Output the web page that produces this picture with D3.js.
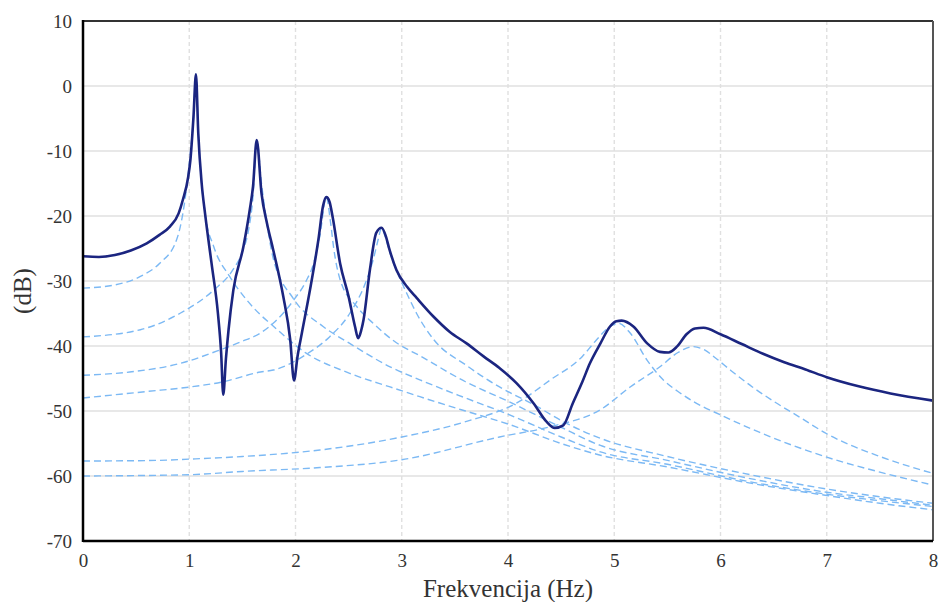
<!DOCTYPE html>
<html>
<head>
<meta charset="utf-8">
<script src="https://cdn.jsdelivr.net/npm/d3@7"></script>
<style>
  html, body { margin: 0; padding: 0; background: #fff; }
  svg { display: block; }
</style>
</head>
<body>
<svg id="chart" width="939" height="602"></svg>
<script>
// ---------- data ----------
const xTicks = [0, 1, 2, 3, 4, 5, 6, 7, 8];
const yTicks = [10, 0, -10, -20, -30, -40, -50, -60, -70];
const xTitle = "Frekvencija (Hz)";
const yTitle = "(dB)";

// total response (solid)
const totalResponse = [
  [0,-26.2],[0.15,-26.3],[0.3,-26.0],[0.45,-25.3],[0.6,-24.2],[0.72,-22.9],[0.82,-21.6],[0.90,-19.6],
  [0.94,-17.5],[0.99,-14],[1.01,-11.5],[1.04,-4.7],[1.063,1.8],[1.085,-7.3],[1.117,-15],
  [1.15,-19.8],[1.21,-27.3],[1.27,-35],[1.30,-41],[1.32,-47.5],[1.345,-42],[1.37,-37.5],
  [1.415,-31.4],[1.51,-24.7],[1.57,-19],[1.60,-15.5],[1.635,-8.3],[1.68,-16.5],[1.73,-21],
  [1.79,-25.2],[1.885,-32.4],[1.95,-39],[1.986,-45.3],[2.02,-41.5],[2.06,-38],[2.136,-31.4],
  [2.215,-23.7],[2.26,-18.4],[2.29,-17.1],[2.32,-17.8],[2.35,-20.2],[2.42,-27.3],[2.50,-32.4],
  [2.56,-37],[2.59,-38.8],[2.62,-37.5],[2.64,-36],[2.70,-28.3],[2.76,-22.6],[2.81,-21.8],
  [2.85,-23.1],[2.88,-24.9],[2.95,-28.3],[3.05,-30.9],[3.14,-32.6],[3.30,-35.5],[3.45,-37.8],
  [3.61,-39.6],[3.77,-41.6],[3.92,-43.4],[4.08,-45.7],[4.24,-48.8],[4.36,-51.6],[4.44,-52.6],
  [4.52,-52.2],[4.61,-48.8],[4.70,-45.5],[4.77,-42.7],[4.87,-39.6],[4.96,-37],[5.02,-36.2],
  [5.07,-36.1],[5.18,-37],[5.31,-39.6],[5.43,-40.9],[5.51,-41.0],[5.59,-40.1],[5.68,-38.2],
  [5.76,-37.3],[5.84,-37.2],[6.0,-38.2],[6.2,-39.7],[6.4,-41.2],[6.6,-42.5],[6.8,-43.6],
  [7.0,-44.8],[7.3,-46.2],[7.6,-47.3],[8.0,-48.4]
];

// modal contributions (dashed)
const mode1 = [
  [0,-31.1],[0.3,-30.6],[0.54,-29.3],[0.72,-27.3],[0.88,-23.7],[0.94,-19.6],[1.0,-12],
  [1.04,-4.7],[1.063,1.8],[1.085,-7.3],[1.117,-15],[1.15,-19.8],[1.23,-24.7],[1.38,-29.3],
  [1.54,-32.9],[1.67,-35.2],[1.76,-36.5],[2.1,-41.1],[2.51,-44.2],[2.89,-46.3],[3.17,-47.8],
  [3.6,-50],[4.0,-52],[4.5,-55],[4.87,-56.8],[5.5,-58.6],[6.28,-61.1],[7.0,-63],[7.5,-64.2],[8.0,-65.2]
];
const mode2 = [
  [0,-38.6],[0.54,-37.5],[0.91,-35],[1.23,-31.4],[1.41,-28.3],[1.5,-25.5],[1.56,-22],[1.6,-17],
  [1.635,-8.3],[1.68,-15],[1.73,-21],[1.79,-26.5],[1.98,-32.7],[2.26,-37],[2.51,-39.6],
  [2.89,-43.2],[3.17,-45.2],[3.6,-48],[4.0,-50.5],[4.5,-54],[4.87,-56.3],[5.5,-58.2],
  [6.28,-60.9],[7.0,-62.8],[7.5,-63.8],[8.0,-64.7]
];
const mode3 = [
  [0,-44.5],[0.44,-44],[0.91,-42.7],[1.29,-40.6],[1.48,-39.4],[1.67,-38],[1.79,-36.5],
  [1.98,-33],[2.1,-30],[2.17,-27.3],[2.23,-23],[2.29,-17.1],[2.33,-21],[2.36,-25],[2.42,-29.8],
  [2.58,-34],[2.73,-36.5],[2.95,-39.5],[3.17,-41.5],[3.6,-45.5],[4.0,-48.5],[4.5,-52.5],
  [4.87,-55.3],[5.5,-57.6],[6.28,-60.4],[7.0,-62.5],[7.5,-63.5],[8.0,-64.5]
];
const mode4 = [
  [0,-48],[0.6,-47],[1.01,-46.3],[1.32,-45.5],[1.67,-44],[1.79,-43.7],[2.1,-41.3],[2.32,-38.6],
  [2.51,-35],[2.67,-29.8],[2.73,-26.8],[2.78,-23.5],[2.81,-21.8],[2.85,-23.5],[2.89,-25.7],
  [2.98,-29.5],[3.05,-32],[3.14,-35],[3.30,-39],[3.61,-43],[3.92,-46.3],[4.24,-49],
  [4.55,-51.9],[4.87,-54.2],[5.5,-57],[6.28,-59.8],[7.0,-62],[7.5,-63.2],[8.0,-64.2]
];
const mode5 = [
  [0,-57.7],[0.7,-57.6],[1.0,-57.4],[1.5,-57],[2.23,-56],[3.0,-54],[3.61,-51.6],[4.08,-48.8],
  [4.4,-45.2],[4.7,-41.6],[4.83,-39.1],[4.96,-37],[5.04,-36.5],[5.15,-38],[5.31,-42.2],
  [5.46,-45.2],[5.6,-47],[5.75,-48.6],[6.0,-50.6],[6.37,-53.3],[7.0,-57.1],[7.5,-59.4],[8.0,-61.4]
];
const mode6 = [
  [0,-60],[1.0,-59.8],[1.5,-59.3],[2.23,-58.7],[3.0,-57.5],[3.92,-54],[4.4,-52.4],[4.87,-49.8],
  [5.15,-46.3],[5.43,-43.2],[5.6,-41],[5.74,-40.1],[5.85,-40.6],[5.95,-41.8],[6.1,-43.8],
  [6.3,-46.3],[6.5,-48.5],[6.75,-51],[7.0,-53.5],[7.5,-57],[8.0,-59.6]
];
const modes = [mode1, mode2, mode3, mode4, mode5, mode6];

// ---------- drawing ----------
const FONT = "'Liberation Serif', 'Times New Roman', serif";
const svg = d3.select("#chart");
const margin = { left: 83, right: 6, top: 21, bottom: 61 };
const W = 939, H = 602;

const x = d3.scaleLinear().domain([0, 8]).range([margin.left, W - margin.right]);
const y = d3.scaleLinear().domain([-70, 10]).range([H - margin.bottom, margin.top]);

// grid
svg.append("g").selectAll("line").data(yTicks).join("line")
  .attr("x1", x(0)).attr("x2", x(8))
  .attr("y1", d => y(d)).attr("y2", d => y(d))
  .attr("stroke", "#e0e0e0").attr("stroke-width", 1.4);
svg.append("g").selectAll("line").data(xTicks).join("line")
  .attr("x1", d => x(d)).attr("x2", d => x(d))
  .attr("y1", y(10)).attr("y2", y(-70))
  .attr("stroke", "#e0e0e0").attr("stroke-width", 1.4)
  .attr("stroke-dasharray", "4,3");

const line = d3.line().x(d => x(d[0])).y(d => y(d[1])).curve(d3.curveMonotoneX);

// dashed modal curves
svg.append("g").selectAll("path").data(modes).join("path")
  .attr("d", line)
  .attr("fill", "none")
  .attr("stroke", "#7cb9f4")
  .attr("stroke-width", 1.4)
  .attr("stroke-dasharray", "7,4");

// total curve
svg.append("path").datum(totalResponse)
  .attr("d", line)
  .attr("fill", "none")
  .attr("stroke", "#1b2580")
  .attr("stroke-width", 2.6)
  .attr("stroke-linejoin", "round");

// frame
svg.append("line").attr("x1", x(0)).attr("x2", x(8)).attr("y1", y(10)).attr("y2", y(10))
  .attr("stroke", "#333").attr("stroke-width", 2);
svg.append("line").attr("x1", x(8)).attr("x2", x(8)).attr("y1", y(10)).attr("y2", y(-70))
  .attr("stroke", "#555").attr("stroke-width", 2);
svg.append("line").attr("x1", x(0)).attr("x2", x(0)).attr("y1", y(10) - 1).attr("y2", y(-70) + 1)
  .attr("stroke", "#000").attr("stroke-width", 2.5);
svg.append("line").attr("x1", x(0)).attr("x2", x(8)).attr("y1", y(-70)).attr("y2", y(-70))
  .attr("stroke", "#000").attr("stroke-width", 2.5);

// axes (labels only)
const fmt = d => String(d);
const xAxis = d3.axisBottom(x).tickValues(xTicks).tickSize(0).tickPadding(13).tickFormat(fmt);
const gx = svg.append("g").attr("transform", `translate(0,${y(-70)})`).call(xAxis);
gx.select(".domain").remove();
gx.selectAll("text").style("font-family", FONT).style("font-size", "19px").attr("fill", "#333");

const yAxis = d3.axisLeft(y).tickValues(yTicks).tickSize(0).tickPadding(11).tickFormat(fmt);
const gy = svg.append("g").attr("transform", `translate(${x(0)},0)`).call(yAxis);
gy.select(".domain").remove();
gy.selectAll("text").style("font-family", FONT).style("font-size", "19px").attr("fill", "#333");

// titles
svg.append("text").attr("x", (x(0) + x(8)) / 2).attr("y", 597)
  .attr("text-anchor", "middle").style("font-family", FONT).style("font-size", "25px").attr("fill", "#333")
  .text(xTitle);
svg.append("text").attr("transform", "translate(31,291) rotate(-90)")
  .attr("text-anchor", "middle").style("font-family", FONT).style("font-size", "25px").attr("fill", "#333")
  .text(yTitle);
</script>
</body>
</html>
